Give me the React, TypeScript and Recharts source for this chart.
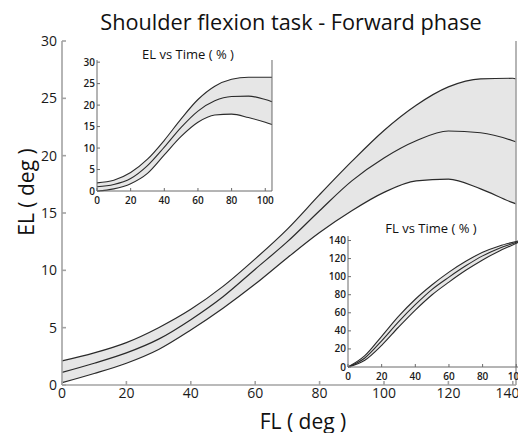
import React from "react";
import { ComposedChart, Area, Line, XAxis, YAxis } from "recharts";

// main plot: elbow angle against shoulder flexion angle
const flDeg = [0, 10, 20, 30, 40, 50, 60, 70, 80, 90, 100, 110, 120, 130, 140, 141];
const elUpper = [2.1, 2.8, 3.7, 5.0, 6.6, 8.6, 11.0, 13.6, 16.6, 19.5, 22.2, 24.4, 26.0, 26.7, 26.75, 26.7];
const elMean = [1.1, 1.9, 2.8, 4.0, 5.7, 7.7, 10.1, 12.5, 15.2, 17.8, 19.8, 21.3, 22.15, 22.0, 21.3, 21.2];
const elLower = [0.2, 1.0, 1.9, 3.1, 4.8, 6.7, 8.8, 11.1, 13.3, 15.2, 16.8, 17.8, 17.95, 17.1, 15.9, 15.8];

// insets: both angles against normalised time
const timePct = [0, 10, 20, 30, 40, 50, 60, 70, 80, 90, 100, 104];
const elUpperT = [1.9, 2.5, 4.3, 7.4, 11.8, 16.8, 21.3, 24.4, 26.0, 26.5, 26.5, 26.5];
const elMeanT = [1.0, 1.5, 2.9, 5.9, 10.2, 14.8, 18.6, 21.0, 22.0, 22.1, 21.3, 20.8];
const elLowerT = [0.0, 0.5, 1.7, 4.1, 8.4, 12.7, 16.0, 17.7, 17.9, 17.1, 16.0, 15.5];
const flUpperT = [0, 12.5, 34, 56, 75, 91, 105, 117, 127, 134, 139, 141];
const flMeanT = [0, 10, 29, 50, 69, 86, 99.5, 112, 123, 131.5, 138, 141];
const flLowerT = [0, 7.5, 24, 44, 63, 80, 94, 107, 118.5, 128.5, 137, 141];

const flTicks = [0, 20, 40, 60, 80, 100, 120, 140];
const elTicks = [0, 5, 10, 15, 20, 25, 30];
const timeTicks = [0, 20, 40, 60, 80, 100];
const flTicksT = [0, 20, 40, 60, 80, 100, 120, 140];

const FONT = "'Open Sans', sans-serif";
const BAND = "#e6e6e6";
const CURVE = "#2a2a2a";

const mainRows = flDeg.map((fl, i) => ({
  fl,
  hi: elUpper[i],
  mid: elMean[i],
  lo: elLower[i],
  band: [elLower[i], elUpper[i]],
}));

const toRows = (hi: number[], mid: number[], lo: number[]) =>
  timePct.map((t, i) => ({ t, hi: hi[i], mid: mid[i], lo: lo[i], band: [lo[i], hi[i]] }));

const elRows = toRows(elUpperT, elMeanT, elLowerT);
const flRows = toRows(flUpperT, flMeanT, flLowerT);

function Inset({ rows, yDomain, yTicks, yWidth, left, top }: any) {
  const axis = { stroke: "#6a6a6a", strokeWidth: 1 };
  const tick = { fill: "#1a1a1a", fontSize: 10, fontWeight: 600, fontFamily: FONT };
  return (
    <div style={{ position: "absolute", left, top }}>
      <ComposedChart width={yWidth + 178} height={170} data={rows}
        margin={{ top: 20, right: 3, bottom: 0, left: 0 }}>
        <XAxis xAxisId="b" dataKey="t" type="number" domain={[0, 104]} ticks={timeTicks}
          height={19} tickSize={-3} tickMargin={9} axisLine={axis} tickLine={axis} tick={tick} />
        <XAxis xAxisId="t" orientation="top" dataKey="t" type="number" domain={[0, 104]}
          ticks={timeTicks} height={0} tickSize={-3} axisLine={axis} tickLine={axis} tick={false} />
        <YAxis yAxisId="l" type="number" domain={yDomain} ticks={yTicks} width={yWidth}
          tickSize={-3} tickMargin={5} axisLine={axis} tickLine={axis} tick={tick} />
        <YAxis yAxisId="r" orientation="right" type="number" domain={yDomain} ticks={yTicks}
          width={0.01} tickSize={-3} axisLine={axis} tickLine={axis} tick={false} />
        <Area xAxisId="b" yAxisId="l" type="monotone" dataKey="band" fill={BAND}
          fillOpacity={1} stroke="none" isAnimationActive={false} />
        {["hi", "mid", "lo"].map((k) => (
          <Line key={k} xAxisId="b" yAxisId="l" type="monotone" dataKey={k} stroke={CURVE}
            strokeWidth={1.1} dot={false} isAnimationActive={false} />
        ))}
      </ComposedChart>
    </div>
  );
}

export default function App() {
  const axis = { stroke: "#a3a3a3", strokeWidth: 1.6 };
  const tick = { fill: "#1a1a1a", fontSize: 14, fontFamily: FONT };
  return (
    <div style={{
      position: "absolute", left: 0, top: 0, width: 518, height: 433,
      overflow: "hidden", background: "#fff", fontFamily: FONT,
    }}>
      <ComposedChart width={518} height={433} data={mainRows}
        margin={{ top: 41, right: 0, bottom: 23, left: 0 }}>
        <XAxis xAxisId="b" dataKey="fl" type="number" domain={[0, 141]} ticks={flTicks}
          height={25} tickSize={-4} tickMargin={7} axisLine={axis} tickLine={axis} tick={tick} />
        <XAxis xAxisId="t" orientation="top" dataKey="fl" type="number" domain={[0, 141]}
          ticks={flTicks} height={0} tickSize={-4} axisLine={axis} tickLine={axis} tick={false} />
        <YAxis yAxisId="l" type="number" domain={[0, 30]} ticks={elTicks} width={62}
          tickSize={-4} tickMargin={9} axisLine={axis} tickLine={axis} tick={tick} />
        <YAxis yAxisId="r" orientation="right" type="number" domain={[0, 30]} ticks={elTicks}
          width={2} tickSize={-4} axisLine={axis} tickLine={axis} tick={false} />
        <Area xAxisId="b" yAxisId="l" type="monotone" dataKey="band" fill={BAND}
          fillOpacity={1} stroke="none" isAnimationActive={false} />
        {["hi", "mid", "lo"].map((k) => (
          <Line key={k} xAxisId="b" yAxisId="l" type="monotone" dataKey={k} stroke={CURVE}
            strokeWidth={1.2} dot={false} isAnimationActive={false} />
        ))}
      </ComposedChart>

      <Inset rows={elRows} yDomain={[0, 30.5]} yTicks={elTicks} yWidth={22} left={75} top={40} />
      <Inset rows={flRows} yDomain={[0, 145]} yTicks={flTicksT} yWidth={28} left={320} top={216} />

      <svg width={518} height={433} style={{ position: "absolute", left: 0, top: 0, pointerEvents: "none" }}>
        <g fontFamily={FONT} fill="#111">
          <text x={291} y={30} fontSize={21.7} textAnchor="middle">Shoulder flexion task - Forward phase</text>
          <text x={303} y={429} fontSize={21} textAnchor="middle">FL ( deg )</text>
          <text x={34} y={192} fontSize={21} textAnchor="middle" transform="rotate(-90 34 192)">EL ( deg )</text>
          <text x={188} y={59} fontSize={13} textAnchor="middle">EL vs Time ( % )</text>
          <text x={431} y={233} fontSize={13} textAnchor="middle">FL vs Time ( % )</text>
        </g>
      </svg>
    </div>
  );
}
